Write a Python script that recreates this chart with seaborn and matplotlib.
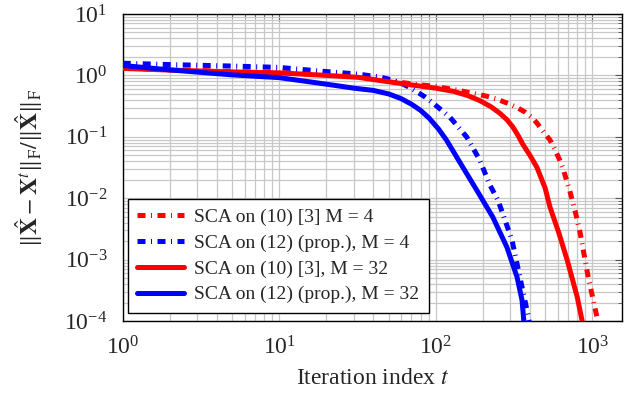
import numpy as np
import pandas as pd
import matplotlib
matplotlib.use("Agg")
import matplotlib.pyplot as plt
import seaborn as sns

# curve values (iteration index, normalised error)
red_m4_x = [1, 2, 5, 10, 20, 32, 50, 70, 100, 136, 211, 246, 290, 331, 375, 418, 450, 483, 537, 579, 620, 652, 720, 780, 838, 943, 1070, 1110]
red_m4_y = [1.32, 1.24, 1.16, 1.12, 1.02, 0.95, 0.82, 0.73, 0.66, 0.58, 0.46, 0.41, 0.35, 0.3, 0.25, 0.2, 0.16, 0.125, 0.089, 0.061, 0.042, 0.03, 0.013, 0.006, 0.0027, 5.2e-4, 1.2e-4, 7e-5]

blue_m4_x = [1, 2, 5, 10, 18, 32, 44, 52, 60, 67, 75, 85, 96, 123, 158, 191, 222, 250, 307, 345, 389, 405]
blue_m4_y = [1.58, 1.5, 1.42, 1.35, 1.18, 1.05, 0.94, 0.85, 0.75, 0.65, 0.55, 0.45, 0.355, 0.21, 0.099, 0.042, 0.0164, 0.0093, 0.0021, 5.2e-4, 1.26e-4, 7e-5]

red_m32_x = [1, 2, 5, 10, 20, 32, 48, 70, 100, 130, 160, 191, 225, 256, 285, 311, 336, 361, 400, 443, 500, 537, 610, 691, 801, 863, 885]
red_m32_y = [1.3, 1.22, 1.14, 1.1, 1.0, 0.93, 0.8, 0.7, 0.62, 0.55, 0.47, 0.39, 0.31, 0.244, 0.19, 0.145, 0.105, 0.075, 0.05, 0.032, 0.0147, 0.0072, 0.0028, 1e-3, 2.5e-4, 1e-4, 7e-5]

blue_m32_x = [1, 2, 5, 10, 20, 30, 40, 50, 60, 70, 80, 91, 104, 117, 149, 183, 232, 285, 331, 356, 370]
blue_m32_y = [1.45, 1.23, 1.02, 0.92, 0.72, 0.62, 0.57, 0.5, 0.42, 0.34, 0.27, 0.2, 0.135, 0.089, 0.032, 0.0135, 0.0049, 0.0016, 5.2e-4, 2.2e-4, 7e-5]

labels = ["SCA on (10) [3] M = 4",
          "SCA on (12) (prop.), M = 4",
          "SCA on (10) [3], M = 32",
          "SCA on (12) (prop.), M = 32"]

sns.set_style("white")
plt.rcParams["font.family"] = ["Liberation Serif", "DejaVu Serif"]
plt.rcParams["mathtext.fontset"] = "stix"

fig = plt.figure(figsize=(6.36, 3.99), dpi=100)
ax = fig.add_axes([0.193, 0.195, 0.785, 0.770])

dashdot = (0, (1.6, 1.1, 0.2, 1.1))
series = [
    (red_m4_x, red_m4_y, "#ff0000", dashdot),
    (blue_m4_x, blue_m4_y, "#0000ff", dashdot),
    (red_m32_x, red_m32_y, "#ff0000", "-"),
    (blue_m32_x, blue_m32_y, "#0000ff", "-"),
]
for (xs, ys, col, ls), lab in zip(series, labels):
    df = pd.DataFrame({"t": xs, "err": ys})
    sns.lineplot(data=df, x="t", y="err", color=col, linestyle=ls, lw=3.6,
                 label=lab, sort=False, ax=ax, zorder=3)

ax.set_xscale("log")
ax.set_yscale("log")
ax.set_xlim(1, 1550)
ax.set_ylim(1e-4, 10)

ax.grid(True, which="both", color="#c8c8c8", lw=0.9)
ax.set_axisbelow(True)
ax.tick_params(which="both", direction="in", top=True, right=True, color="#555555")
ax.tick_params(which="major", length=5, labelsize=17)
ax.tick_params(axis="x", which="major", pad=11)
ax.tick_params(axis="y", which="major", pad=11)
ax.tick_params(which="minor", length=3)
for s in ax.spines.values():
    s.set_color("black")
    s.set_linewidth(1.0)

ax.set_xlabel(r"Iteration index $t$", fontsize=17, labelpad=6)
ax.set_ylabel(r"$\Vert\hat{\mathbf{X}}-\mathbf{X}^t\Vert_{\mathrm{F}}/\Vert\hat{\mathbf{X}}\Vert_{\mathrm{F}}$",
              fontsize=17, labelpad=14)

leg = ax.legend(loc="lower left", bbox_to_anchor=(0.01, 0.026), borderaxespad=0,
                fontsize=14, handlelength=2.4, labelspacing=0.42, fancybox=False,
                framealpha=1, edgecolor="black", borderpad=0.5, handletextpad=0.5)
leg.get_frame().set_linewidth(1.0)

fig.savefig("out.png", dpi=100)
